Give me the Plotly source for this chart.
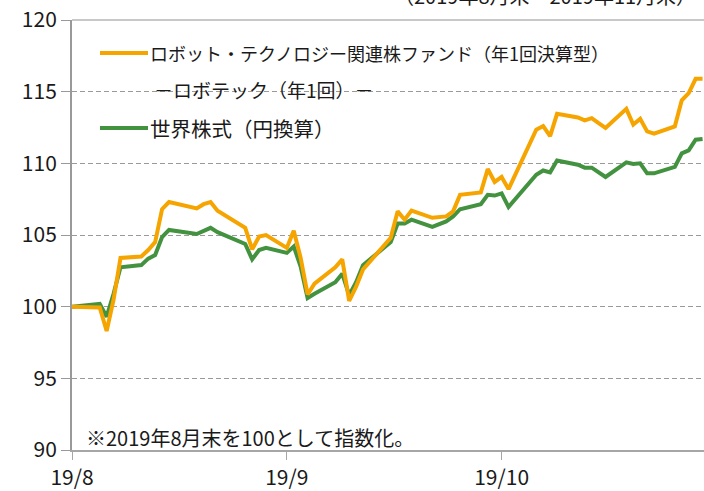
import plotly.graph_objects as go

dates = [
    "2019-08-30", "2019-09-02", "2019-09-03", "2019-09-04", "2019-09-05", "2019-09-06",
    "2019-09-09", "2019-09-10", "2019-09-11", "2019-09-12", "2019-09-13",
    "2019-09-17", "2019-09-18", "2019-09-19", "2019-09-20",
    "2019-09-24", "2019-09-25", "2019-09-26", "2019-09-27",
    "2019-09-30", "2019-10-01", "2019-10-02", "2019-10-03", "2019-10-04",
    "2019-10-07", "2019-10-08", "2019-10-09", "2019-10-10", "2019-10-11",
    "2019-10-15", "2019-10-16", "2019-10-17", "2019-10-18",
    "2019-10-21", "2019-10-23", "2019-10-24", "2019-10-25",
    "2019-10-28", "2019-10-29", "2019-10-30", "2019-10-31", "2019-11-01",
    "2019-11-05", "2019-11-06", "2019-11-07", "2019-11-08",
    "2019-11-11", "2019-11-12", "2019-11-13", "2019-11-14", "2019-11-15",
    "2019-11-18", "2019-11-19", "2019-11-20", "2019-11-21", "2019-11-22",
    "2019-11-25", "2019-11-26", "2019-11-27", "2019-11-28", "2019-11-29",
]

fund_values = [
    100.0, 100.0, 99.95, 98.3, 100.5, 103.4,
    103.5, 103.95, 104.5, 106.8, 107.3,
    106.85, 107.15, 107.3, 106.7,
    105.5, 104.0, 104.9, 105.0,
    104.1, 105.3, 103.4, 100.85, 101.6,
    102.75, 103.3, 100.4, 101.4, 102.6,
    104.8, 106.65, 106.07, 106.7,
    106.2, 106.3, 106.65, 107.8,
    107.97, 109.6, 108.7, 109.05, 108.2,
    112.35, 112.6, 111.9, 113.45,
    113.2, 113.0, 113.15, 112.8, 112.47,
    113.8, 112.7, 113.1, 112.23, 112.07,
    112.58, 114.4, 114.9, 115.9, 115.9,
]

world_values = [
    100.0, 100.15, 100.2, 99.3, 100.9, 102.75,
    102.9, 103.35, 103.6, 104.85, 105.35,
    105.07, 105.25, 105.5, 105.2,
    104.37, 103.3, 103.95, 104.1,
    103.75, 104.2, 102.8, 100.6, 100.9,
    101.7, 102.3, 100.8, 101.7, 102.9,
    104.5, 105.8, 105.8, 106.07,
    105.56, 105.95, 106.3, 106.8,
    107.15, 107.8, 107.75, 107.9, 106.95,
    109.2, 109.5, 109.37, 110.2,
    109.9, 109.7, 109.7, 109.37, 109.05,
    110.07, 109.95, 110.0, 109.3, 109.3,
    109.75, 110.7, 110.9, 111.65, 111.7,
]

series_names = ["ロボット・テクノロジー関連株ファンド（年1回決算型）", "世界株式（円換算）"]
fund_subname = "－ロボテック（年1回）－"
x_tick_vals = ["2019-08-30", "2019-09-30", "2019-10-31"]
x_tick_text = ["19/8", "19/9", "19/10"]
y_tick_vals = [90, 95, 100, 105, 110, 115, 120]
period_text = "（2019年8月末～2019年11月末）"
note_text = "※2019年8月末を100として指数化。"

ORANGE = "#F5A400"
GREEN = "#43923F"
FONT = "Noto Sans CJK JP"
TEXT = "#1a1a1a"

W, H = 704, 491
L, R, T, B = 72, 0, 20, 41
PW, PH = W - L - R, H - T - B


def px(xp):
    return (xp - L) / PW


def py(yp):
    return (H - B - yp) / PH


fig = go.Figure()
fig.add_trace(go.Scatter(x=dates, y=world_values, mode="lines",
                         line=dict(color=GREEN, width=4), name=series_names[1]))
fig.add_trace(go.Scatter(x=dates, y=fund_values, mode="lines",
                         line=dict(color=ORANGE, width=4), name=series_names[0]))

# legend drawn manually
fig.add_shape(type="line", xref="paper", yref="paper", x0=px(100), x1=px(148),
              y0=py(53), y1=py(53), line=dict(color=ORANGE, width=4))
fig.add_shape(type="line", xref="paper", yref="paper", x0=px(100), x1=px(148),
              y0=py(128), y1=py(128), line=dict(color=GREEN, width=4))
fig.add_annotation(xref="paper", yref="paper", x=px(148), y=py(53), text=series_names[0],
                   showarrow=False, xanchor="left", yanchor="middle",
                   font=dict(family=FONT, size=18, color=TEXT))
fig.add_annotation(xref="paper", yref="paper", x=px(152), y=py(90), text=fund_subname,
                   showarrow=False, xanchor="left", yanchor="middle",
                   font=dict(family=FONT, size=19, color=TEXT))
fig.add_annotation(xref="paper", yref="paper", x=px(148), y=py(128), text=series_names[1],
                   showarrow=False, xanchor="left", yanchor="middle",
                   font=dict(family=FONT, size=20.5, color=TEXT))

fig.add_annotation(xref="paper", yref="paper", x=px(84), y=py(437.5), text=note_text,
                   showarrow=False, xanchor="left", yanchor="middle",
                   font=dict(family=FONT, size=20, color=TEXT))
fig.add_annotation(xref="paper", yref="paper", x=px(392), y=py(-4), text=period_text,
                   showarrow=False, xanchor="left", yanchor="middle",
                   font=dict(family=FONT, size=20, color=TEXT))

# top border line at 120
fig.add_shape(type="line", xref="paper", yref="paper", x0=0, x1=1, y0=1, y1=1,
              line=dict(color="#c8c8c8", width=2), layer="below")

fig.update_layout(
    width=W, height=H,
    margin=dict(l=L, r=R, t=T, b=B, pad=0, autoexpand=False),
    paper_bgcolor="white", plot_bgcolor="white",
    showlegend=False,
    hovermode=False,
    font=dict(family=FONT, size=21, color=TEXT),
    xaxis=dict(
        type="date",
        range=["2019-08-30 00:00", "2019-11-29 05:00"],
        tickvals=x_tick_vals, ticktext=x_tick_text,
        showgrid=False, zeroline=False,
        showline=True, linecolor="#a6a6a6", linewidth=2,
        ticks="outside", ticklen=8, tickcolor="#a6a6a6", tickwidth=1,
        tickfont=dict(family=FONT, size=21, color=TEXT),
        automargin=False,
    ),
    yaxis=dict(
        range=[90, 120], tickvals=y_tick_vals,
        showgrid=True, gridcolor="#9a9a9a", gridwidth=1, griddash="5px,3px",
        zeroline=False,
        showline=True, linecolor="#999999", linewidth=2,
        ticks="outside", ticklen=9, tickcolor="#999999", tickwidth=1,
        tickfont=dict(family=FONT, size=21, color=TEXT),
        automargin=False,
    ),
)

fig.write_html(
    "out.html",
    config={"displayModeBar": False, "staticPlot": True},
    post_script="document.body.style.margin='0px';document.body.style.overflow='hidden';",
)
